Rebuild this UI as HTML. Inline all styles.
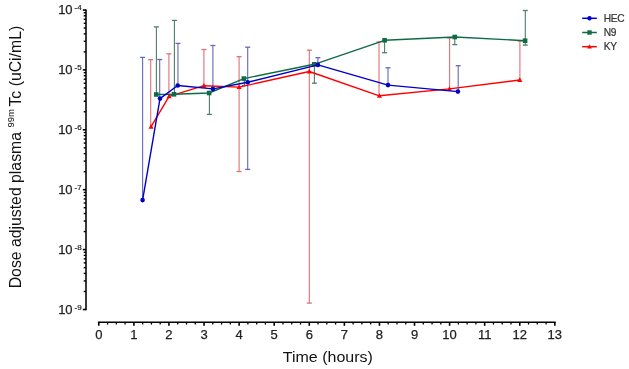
<!DOCTYPE html>
<html><head><meta charset="utf-8"><style>
html,body{margin:0;padding:0;background:#fff;}
body{width:629px;height:369px;position:relative;overflow:hidden;font-family:"Liberation Sans",Arial,sans-serif;}
svg text{font-family:"Liberation Sans",Arial,sans-serif;}
</style></head><body>
<svg width="629" height="369" viewBox="0 0 629 369" style="position:absolute;left:0;top:0">
<line x1="86.0" y1="9.5" x2="86.0" y2="310.3" stroke="#000" stroke-width="1.55"/>
<line x1="82.8" y1="309.50" x2="86.0" y2="309.50" stroke="#000" stroke-width="1.6"/>
<line x1="83.7" y1="291.47" x2="86.0" y2="291.47" stroke="#000" stroke-width="1.4"/>
<line x1="83.7" y1="280.92" x2="86.0" y2="280.92" stroke="#000" stroke-width="1.4"/>
<line x1="83.7" y1="273.44" x2="86.0" y2="273.44" stroke="#000" stroke-width="1.4"/>
<line x1="83.7" y1="267.63" x2="86.0" y2="267.63" stroke="#000" stroke-width="1.4"/>
<line x1="83.7" y1="262.89" x2="86.0" y2="262.89" stroke="#000" stroke-width="1.4"/>
<line x1="83.7" y1="258.88" x2="86.0" y2="258.88" stroke="#000" stroke-width="1.4"/>
<line x1="83.7" y1="255.40" x2="86.0" y2="255.40" stroke="#000" stroke-width="1.4"/>
<line x1="83.7" y1="252.34" x2="86.0" y2="252.34" stroke="#000" stroke-width="1.4"/>
<line x1="82.8" y1="249.60" x2="86.0" y2="249.60" stroke="#000" stroke-width="1.6"/>
<line x1="83.7" y1="231.57" x2="86.0" y2="231.57" stroke="#000" stroke-width="1.4"/>
<line x1="83.7" y1="221.02" x2="86.0" y2="221.02" stroke="#000" stroke-width="1.4"/>
<line x1="83.7" y1="213.54" x2="86.0" y2="213.54" stroke="#000" stroke-width="1.4"/>
<line x1="83.7" y1="207.73" x2="86.0" y2="207.73" stroke="#000" stroke-width="1.4"/>
<line x1="83.7" y1="202.99" x2="86.0" y2="202.99" stroke="#000" stroke-width="1.4"/>
<line x1="83.7" y1="198.98" x2="86.0" y2="198.98" stroke="#000" stroke-width="1.4"/>
<line x1="83.7" y1="195.50" x2="86.0" y2="195.50" stroke="#000" stroke-width="1.4"/>
<line x1="83.7" y1="192.44" x2="86.0" y2="192.44" stroke="#000" stroke-width="1.4"/>
<line x1="82.8" y1="189.70" x2="86.0" y2="189.70" stroke="#000" stroke-width="1.6"/>
<line x1="83.7" y1="171.67" x2="86.0" y2="171.67" stroke="#000" stroke-width="1.4"/>
<line x1="83.7" y1="161.12" x2="86.0" y2="161.12" stroke="#000" stroke-width="1.4"/>
<line x1="83.7" y1="153.64" x2="86.0" y2="153.64" stroke="#000" stroke-width="1.4"/>
<line x1="83.7" y1="147.83" x2="86.0" y2="147.83" stroke="#000" stroke-width="1.4"/>
<line x1="83.7" y1="143.09" x2="86.0" y2="143.09" stroke="#000" stroke-width="1.4"/>
<line x1="83.7" y1="139.08" x2="86.0" y2="139.08" stroke="#000" stroke-width="1.4"/>
<line x1="83.7" y1="135.60" x2="86.0" y2="135.60" stroke="#000" stroke-width="1.4"/>
<line x1="83.7" y1="132.54" x2="86.0" y2="132.54" stroke="#000" stroke-width="1.4"/>
<line x1="82.8" y1="129.80" x2="86.0" y2="129.80" stroke="#000" stroke-width="1.6"/>
<line x1="83.7" y1="111.77" x2="86.0" y2="111.77" stroke="#000" stroke-width="1.4"/>
<line x1="83.7" y1="101.22" x2="86.0" y2="101.22" stroke="#000" stroke-width="1.4"/>
<line x1="83.7" y1="93.74" x2="86.0" y2="93.74" stroke="#000" stroke-width="1.4"/>
<line x1="83.7" y1="87.93" x2="86.0" y2="87.93" stroke="#000" stroke-width="1.4"/>
<line x1="83.7" y1="83.19" x2="86.0" y2="83.19" stroke="#000" stroke-width="1.4"/>
<line x1="83.7" y1="79.18" x2="86.0" y2="79.18" stroke="#000" stroke-width="1.4"/>
<line x1="83.7" y1="75.70" x2="86.0" y2="75.70" stroke="#000" stroke-width="1.4"/>
<line x1="83.7" y1="72.64" x2="86.0" y2="72.64" stroke="#000" stroke-width="1.4"/>
<line x1="82.8" y1="69.90" x2="86.0" y2="69.90" stroke="#000" stroke-width="1.6"/>
<line x1="83.7" y1="51.87" x2="86.0" y2="51.87" stroke="#000" stroke-width="1.4"/>
<line x1="83.7" y1="41.32" x2="86.0" y2="41.32" stroke="#000" stroke-width="1.4"/>
<line x1="83.7" y1="33.84" x2="86.0" y2="33.84" stroke="#000" stroke-width="1.4"/>
<line x1="83.7" y1="28.03" x2="86.0" y2="28.03" stroke="#000" stroke-width="1.4"/>
<line x1="83.7" y1="23.29" x2="86.0" y2="23.29" stroke="#000" stroke-width="1.4"/>
<line x1="83.7" y1="19.28" x2="86.0" y2="19.28" stroke="#000" stroke-width="1.4"/>
<line x1="83.7" y1="15.80" x2="86.0" y2="15.80" stroke="#000" stroke-width="1.4"/>
<line x1="83.7" y1="12.74" x2="86.0" y2="12.74" stroke="#000" stroke-width="1.4"/>
<line x1="82.8" y1="10.00" x2="86.0" y2="10.00" stroke="#000" stroke-width="1.6"/>
<line x1="97.89999999999999" y1="322.2" x2="555.7399999999999" y2="322.2" stroke="#000" stroke-width="1.55"/>
<line x1="98.80" y1="322.2" x2="98.80" y2="325.8" stroke="#000" stroke-width="1.6"/>
<line x1="107.57" y1="322.2" x2="107.57" y2="324.59999999999997" stroke="#000" stroke-width="1.3"/>
<line x1="116.34" y1="322.2" x2="116.34" y2="324.59999999999997" stroke="#000" stroke-width="1.3"/>
<line x1="125.11" y1="322.2" x2="125.11" y2="324.59999999999997" stroke="#000" stroke-width="1.3"/>
<line x1="133.88" y1="322.2" x2="133.88" y2="325.8" stroke="#000" stroke-width="1.6"/>
<line x1="142.65" y1="322.2" x2="142.65" y2="324.59999999999997" stroke="#000" stroke-width="1.3"/>
<line x1="151.42" y1="322.2" x2="151.42" y2="324.59999999999997" stroke="#000" stroke-width="1.3"/>
<line x1="160.19" y1="322.2" x2="160.19" y2="324.59999999999997" stroke="#000" stroke-width="1.3"/>
<line x1="168.96" y1="322.2" x2="168.96" y2="325.8" stroke="#000" stroke-width="1.6"/>
<line x1="177.73" y1="322.2" x2="177.73" y2="324.59999999999997" stroke="#000" stroke-width="1.3"/>
<line x1="186.50" y1="322.2" x2="186.50" y2="324.59999999999997" stroke="#000" stroke-width="1.3"/>
<line x1="195.27" y1="322.2" x2="195.27" y2="324.59999999999997" stroke="#000" stroke-width="1.3"/>
<line x1="204.04" y1="322.2" x2="204.04" y2="325.8" stroke="#000" stroke-width="1.6"/>
<line x1="212.81" y1="322.2" x2="212.81" y2="324.59999999999997" stroke="#000" stroke-width="1.3"/>
<line x1="221.58" y1="322.2" x2="221.58" y2="324.59999999999997" stroke="#000" stroke-width="1.3"/>
<line x1="230.35" y1="322.2" x2="230.35" y2="324.59999999999997" stroke="#000" stroke-width="1.3"/>
<line x1="239.12" y1="322.2" x2="239.12" y2="325.8" stroke="#000" stroke-width="1.6"/>
<line x1="247.89" y1="322.2" x2="247.89" y2="324.59999999999997" stroke="#000" stroke-width="1.3"/>
<line x1="256.66" y1="322.2" x2="256.66" y2="324.59999999999997" stroke="#000" stroke-width="1.3"/>
<line x1="265.43" y1="322.2" x2="265.43" y2="324.59999999999997" stroke="#000" stroke-width="1.3"/>
<line x1="274.20" y1="322.2" x2="274.20" y2="325.8" stroke="#000" stroke-width="1.6"/>
<line x1="282.97" y1="322.2" x2="282.97" y2="324.59999999999997" stroke="#000" stroke-width="1.3"/>
<line x1="291.74" y1="322.2" x2="291.74" y2="324.59999999999997" stroke="#000" stroke-width="1.3"/>
<line x1="300.51" y1="322.2" x2="300.51" y2="324.59999999999997" stroke="#000" stroke-width="1.3"/>
<line x1="309.28" y1="322.2" x2="309.28" y2="325.8" stroke="#000" stroke-width="1.6"/>
<line x1="318.05" y1="322.2" x2="318.05" y2="324.59999999999997" stroke="#000" stroke-width="1.3"/>
<line x1="326.82" y1="322.2" x2="326.82" y2="324.59999999999997" stroke="#000" stroke-width="1.3"/>
<line x1="335.59" y1="322.2" x2="335.59" y2="324.59999999999997" stroke="#000" stroke-width="1.3"/>
<line x1="344.36" y1="322.2" x2="344.36" y2="325.8" stroke="#000" stroke-width="1.6"/>
<line x1="353.13" y1="322.2" x2="353.13" y2="324.59999999999997" stroke="#000" stroke-width="1.3"/>
<line x1="361.90" y1="322.2" x2="361.90" y2="324.59999999999997" stroke="#000" stroke-width="1.3"/>
<line x1="370.67" y1="322.2" x2="370.67" y2="324.59999999999997" stroke="#000" stroke-width="1.3"/>
<line x1="379.44" y1="322.2" x2="379.44" y2="325.8" stroke="#000" stroke-width="1.6"/>
<line x1="388.21" y1="322.2" x2="388.21" y2="324.59999999999997" stroke="#000" stroke-width="1.3"/>
<line x1="396.98" y1="322.2" x2="396.98" y2="324.59999999999997" stroke="#000" stroke-width="1.3"/>
<line x1="405.75" y1="322.2" x2="405.75" y2="324.59999999999997" stroke="#000" stroke-width="1.3"/>
<line x1="414.52" y1="322.2" x2="414.52" y2="325.8" stroke="#000" stroke-width="1.6"/>
<line x1="423.29" y1="322.2" x2="423.29" y2="324.59999999999997" stroke="#000" stroke-width="1.3"/>
<line x1="432.06" y1="322.2" x2="432.06" y2="324.59999999999997" stroke="#000" stroke-width="1.3"/>
<line x1="440.83" y1="322.2" x2="440.83" y2="324.59999999999997" stroke="#000" stroke-width="1.3"/>
<line x1="449.60" y1="322.2" x2="449.60" y2="325.8" stroke="#000" stroke-width="1.6"/>
<line x1="458.37" y1="322.2" x2="458.37" y2="324.59999999999997" stroke="#000" stroke-width="1.3"/>
<line x1="467.14" y1="322.2" x2="467.14" y2="324.59999999999997" stroke="#000" stroke-width="1.3"/>
<line x1="475.91" y1="322.2" x2="475.91" y2="324.59999999999997" stroke="#000" stroke-width="1.3"/>
<line x1="484.68" y1="322.2" x2="484.68" y2="325.8" stroke="#000" stroke-width="1.6"/>
<line x1="493.45" y1="322.2" x2="493.45" y2="324.59999999999997" stroke="#000" stroke-width="1.3"/>
<line x1="502.22" y1="322.2" x2="502.22" y2="324.59999999999997" stroke="#000" stroke-width="1.3"/>
<line x1="510.99" y1="322.2" x2="510.99" y2="324.59999999999997" stroke="#000" stroke-width="1.3"/>
<line x1="519.76" y1="322.2" x2="519.76" y2="325.8" stroke="#000" stroke-width="1.6"/>
<line x1="528.53" y1="322.2" x2="528.53" y2="324.59999999999997" stroke="#000" stroke-width="1.3"/>
<line x1="537.30" y1="322.2" x2="537.30" y2="324.59999999999997" stroke="#000" stroke-width="1.3"/>
<line x1="546.07" y1="322.2" x2="546.07" y2="324.59999999999997" stroke="#000" stroke-width="1.3"/>
<line x1="554.84" y1="322.2" x2="554.84" y2="325.8" stroke="#000" stroke-width="1.6"/>
<text x="98.80" y="338.9" text-anchor="middle" font-size="13" fill="#222" stroke="#222" stroke-width="0.25">0</text>
<text x="133.88" y="338.9" text-anchor="middle" font-size="13" fill="#222" stroke="#222" stroke-width="0.25">1</text>
<text x="168.96" y="338.9" text-anchor="middle" font-size="13" fill="#222" stroke="#222" stroke-width="0.25">2</text>
<text x="204.04" y="338.9" text-anchor="middle" font-size="13" fill="#222" stroke="#222" stroke-width="0.25">3</text>
<text x="239.12" y="338.9" text-anchor="middle" font-size="13" fill="#222" stroke="#222" stroke-width="0.25">4</text>
<text x="274.20" y="338.9" text-anchor="middle" font-size="13" fill="#222" stroke="#222" stroke-width="0.25">5</text>
<text x="309.28" y="338.9" text-anchor="middle" font-size="13" fill="#222" stroke="#222" stroke-width="0.25">6</text>
<text x="344.36" y="338.9" text-anchor="middle" font-size="13" fill="#222" stroke="#222" stroke-width="0.25">7</text>
<text x="379.44" y="338.9" text-anchor="middle" font-size="13" fill="#222" stroke="#222" stroke-width="0.25">8</text>
<text x="414.52" y="338.9" text-anchor="middle" font-size="13" fill="#222" stroke="#222" stroke-width="0.25">9</text>
<text x="449.60" y="338.9" text-anchor="middle" font-size="13" fill="#222" stroke="#222" stroke-width="0.25">10</text>
<text x="484.68" y="338.9" text-anchor="middle" font-size="13" fill="#222" stroke="#222" stroke-width="0.25">11</text>
<text x="519.76" y="338.9" text-anchor="middle" font-size="13" fill="#222" stroke="#222" stroke-width="0.25">12</text>
<text x="554.84" y="338.9" text-anchor="middle" font-size="13" fill="#222" stroke="#222" stroke-width="0.25">13</text>
<text x="72.6" y="313.70" text-anchor="end" font-size="13" fill="#222" stroke="#222" stroke-width="0.25">10</text>
<text x="74.6" y="309.90" font-size="8" fill="#222" stroke="#222" stroke-width="0.2">-9</text>
<text x="72.6" y="253.80" text-anchor="end" font-size="13" fill="#222" stroke="#222" stroke-width="0.25">10</text>
<text x="74.6" y="250.00" font-size="8" fill="#222" stroke="#222" stroke-width="0.2">-8</text>
<text x="72.6" y="193.90" text-anchor="end" font-size="13" fill="#222" stroke="#222" stroke-width="0.25">10</text>
<text x="74.6" y="190.10" font-size="8" fill="#222" stroke="#222" stroke-width="0.2">-7</text>
<text x="72.6" y="134.00" text-anchor="end" font-size="13" fill="#222" stroke="#222" stroke-width="0.25">10</text>
<text x="74.6" y="130.20" font-size="8" fill="#222" stroke="#222" stroke-width="0.2">-6</text>
<text x="72.6" y="74.10" text-anchor="end" font-size="13" fill="#222" stroke="#222" stroke-width="0.25">10</text>
<text x="74.6" y="70.30" font-size="8" fill="#222" stroke="#222" stroke-width="0.2">-5</text>
<text x="72.6" y="14.20" text-anchor="end" font-size="13" fill="#222" stroke="#222" stroke-width="0.25">10</text>
<text x="74.6" y="10.40" font-size="8" fill="#222" stroke="#222" stroke-width="0.2">-4</text>
<text x="327.8" y="361.9" text-anchor="middle" font-size="15.2" textLength="90" lengthAdjust="spacingAndGlyphs" fill="#111">Time (hours)</text>
<text transform="translate(20.5,288.3) rotate(-90)" font-size="15.8" fill="#111">Dose adjusted plasma <tspan font-size="9.6" dy="-7">99m</tspan><tspan dy="7" dx="2.4">Tc (uCi/mL)</tspan></text>
<line x1="150.7" y1="59.7" x2="150.7" y2="126.7" stroke="#de7078" stroke-width="1.1"/>
<line x1="148.2" y1="59.7" x2="153.2" y2="59.7" stroke="#de7078" stroke-width="1.3"/>
<line x1="168.9" y1="53.8" x2="168.9" y2="96.4" stroke="#de7078" stroke-width="1.1"/>
<line x1="166.4" y1="53.8" x2="171.4" y2="53.8" stroke="#de7078" stroke-width="1.3"/>
<line x1="203.9" y1="49.5" x2="203.9" y2="85.7" stroke="#de7078" stroke-width="1.1"/>
<line x1="201.4" y1="49.5" x2="206.4" y2="49.5" stroke="#de7078" stroke-width="1.3"/>
<line x1="239.1" y1="56.7" x2="239.1" y2="87.1" stroke="#de7078" stroke-width="1.1"/>
<line x1="236.6" y1="56.7" x2="241.6" y2="56.7" stroke="#de7078" stroke-width="1.3"/>
<line x1="239.1" y1="87.1" x2="239.1" y2="171.5" stroke="#de7078" stroke-width="1.1"/>
<line x1="236.6" y1="171.5" x2="241.6" y2="171.5" stroke="#de7078" stroke-width="1.3"/>
<line x1="309.3" y1="50.2" x2="309.3" y2="71.5" stroke="#de7078" stroke-width="1.1"/>
<line x1="306.8" y1="50.2" x2="311.8" y2="50.2" stroke="#de7078" stroke-width="1.3"/>
<line x1="309.3" y1="71.5" x2="309.3" y2="303.1" stroke="#de7078" stroke-width="1.1"/>
<line x1="306.8" y1="303.1" x2="311.8" y2="303.1" stroke="#de7078" stroke-width="1.3"/>
<line x1="379.0" y1="42.0" x2="379.0" y2="95.8" stroke="#de7078" stroke-width="1.1"/>
<line x1="376.5" y1="42.0" x2="381.5" y2="42.0" stroke="#de7078" stroke-width="1.3"/>
<line x1="449.6" y1="38.1" x2="449.6" y2="88.9" stroke="#de7078" stroke-width="1.1"/>
<line x1="447.1" y1="38.1" x2="452.1" y2="38.1" stroke="#de7078" stroke-width="1.3"/>
<line x1="519.9" y1="41.0" x2="519.9" y2="80.0" stroke="#de7078" stroke-width="1.1"/>
<line x1="517.4" y1="41.0" x2="522.4" y2="41.0" stroke="#de7078" stroke-width="1.3"/>
<line x1="142.6" y1="57.4" x2="142.6" y2="200.1" stroke="#6666bc" stroke-width="1.1"/>
<line x1="140.1" y1="57.4" x2="145.1" y2="57.4" stroke="#6666bc" stroke-width="1.3"/>
<line x1="159.7" y1="59.5" x2="159.7" y2="98.6" stroke="#6666bc" stroke-width="1.1"/>
<line x1="157.2" y1="59.5" x2="162.2" y2="59.5" stroke="#6666bc" stroke-width="1.3"/>
<line x1="177.95" y1="43.4" x2="177.95" y2="85.5" stroke="#6666bc" stroke-width="1.1"/>
<line x1="175.45" y1="43.4" x2="180.45" y2="43.4" stroke="#6666bc" stroke-width="1.3"/>
<line x1="212.9" y1="45.5" x2="212.9" y2="88.9" stroke="#6666bc" stroke-width="1.1"/>
<line x1="210.4" y1="45.5" x2="215.4" y2="45.5" stroke="#6666bc" stroke-width="1.3"/>
<line x1="247.7" y1="47.2" x2="247.7" y2="82.3" stroke="#6666bc" stroke-width="1.1"/>
<line x1="245.2" y1="47.2" x2="250.2" y2="47.2" stroke="#6666bc" stroke-width="1.3"/>
<line x1="247.7" y1="82.3" x2="247.7" y2="169.4" stroke="#6666bc" stroke-width="1.1"/>
<line x1="245.2" y1="169.4" x2="250.2" y2="169.4" stroke="#6666bc" stroke-width="1.3"/>
<line x1="317.9" y1="57.7" x2="317.9" y2="64.9" stroke="#6666bc" stroke-width="1.1"/>
<line x1="315.4" y1="57.7" x2="320.4" y2="57.7" stroke="#6666bc" stroke-width="1.3"/>
<line x1="388.0" y1="67.8" x2="388.0" y2="85.1" stroke="#6666bc" stroke-width="1.1"/>
<line x1="385.5" y1="67.8" x2="390.5" y2="67.8" stroke="#6666bc" stroke-width="1.3"/>
<line x1="458.2" y1="65.7" x2="458.2" y2="91.6" stroke="#6666bc" stroke-width="1.1"/>
<line x1="455.7" y1="65.7" x2="460.7" y2="65.7" stroke="#6666bc" stroke-width="1.3"/>
<line x1="156.4" y1="26.9" x2="156.4" y2="94.5" stroke="#4d7e68" stroke-width="1.1"/>
<line x1="153.9" y1="26.9" x2="158.9" y2="26.9" stroke="#4d7e68" stroke-width="1.3"/>
<line x1="174.4" y1="20.4" x2="174.4" y2="94.3" stroke="#4d7e68" stroke-width="1.1"/>
<line x1="171.9" y1="20.4" x2="176.9" y2="20.4" stroke="#4d7e68" stroke-width="1.3"/>
<line x1="209.4" y1="93.0" x2="209.4" y2="114.4" stroke="#4d7e68" stroke-width="1.1"/>
<line x1="206.9" y1="114.4" x2="211.9" y2="114.4" stroke="#4d7e68" stroke-width="1.3"/>
<line x1="244.4" y1="78.6" x2="244.4" y2="85.5" stroke="#4d7e68" stroke-width="1.1"/>
<line x1="241.9" y1="85.5" x2="246.9" y2="85.5" stroke="#4d7e68" stroke-width="1.3"/>
<line x1="314.4" y1="64.3" x2="314.4" y2="83.2" stroke="#4d7e68" stroke-width="1.1"/>
<line x1="311.9" y1="83.2" x2="316.9" y2="83.2" stroke="#4d7e68" stroke-width="1.3"/>
<line x1="384.6" y1="40.3" x2="384.6" y2="52.7" stroke="#4d7e68" stroke-width="1.1"/>
<line x1="382.1" y1="52.7" x2="387.1" y2="52.7" stroke="#4d7e68" stroke-width="1.3"/>
<line x1="454.8" y1="37.0" x2="454.8" y2="44.6" stroke="#4d7e68" stroke-width="1.1"/>
<line x1="452.3" y1="44.6" x2="457.3" y2="44.6" stroke="#4d7e68" stroke-width="1.3"/>
<line x1="525.3" y1="10.5" x2="525.3" y2="40.7" stroke="#4d7e68" stroke-width="1.1"/>
<line x1="522.8" y1="10.5" x2="527.8" y2="10.5" stroke="#4d7e68" stroke-width="1.3"/>
<line x1="525.3" y1="40.7" x2="525.3" y2="45.1" stroke="#4d7e68" stroke-width="1.1"/>
<line x1="522.8" y1="45.1" x2="527.8" y2="45.1" stroke="#4d7e68" stroke-width="1.3"/>
<polyline points="151.1,126.7 169.1,96.4 203.9,85.7 239.1,87.1 309.3,71.5 379.4,95.8 449.4,88.9 519.8,80.0" fill="none" stroke="#ff0000" stroke-width="1.4" stroke-linejoin="round"/>
<polygon points="151.1,124.055 148.57,128.655 153.63,128.655" fill="#ff0000"/>
<polygon points="169.1,93.75500000000001 166.57,98.355 171.63,98.355" fill="#ff0000"/>
<polygon points="203.9,83.055 201.37,87.655 206.43,87.655" fill="#ff0000"/>
<polygon points="239.1,84.455 236.57,89.05499999999999 241.63,89.05499999999999" fill="#ff0000"/>
<polygon points="309.3,68.855 306.77000000000004,73.455 311.83,73.455" fill="#ff0000"/>
<polygon points="379.4,93.155 376.87,97.755 381.92999999999995,97.755" fill="#ff0000"/>
<polygon points="449.4,86.25500000000001 446.87,90.855 451.92999999999995,90.855" fill="#ff0000"/>
<polygon points="519.8,77.355 517.27,81.955 522.3299999999999,81.955" fill="#ff0000"/>
<polyline points="156.3,94.5 174.0,94.3 209.1,93.0 243.9,78.6 314.2,64.3 384.6,40.3 454.8,37.0 525.1,40.7" fill="none" stroke="#0e6b45" stroke-width="1.4" stroke-linejoin="round"/>
<rect x="154.0" y="92.2" width="4.6" height="4.6" fill="#0e6b45"/>
<rect x="171.7" y="92.0" width="4.6" height="4.6" fill="#0e6b45"/>
<rect x="206.79999999999998" y="90.7" width="4.6" height="4.6" fill="#0e6b45"/>
<rect x="241.6" y="76.3" width="4.6" height="4.6" fill="#0e6b45"/>
<rect x="311.9" y="62.0" width="4.6" height="4.6" fill="#0e6b45"/>
<rect x="382.3" y="38.0" width="4.6" height="4.6" fill="#0e6b45"/>
<rect x="452.5" y="34.7" width="4.6" height="4.6" fill="#0e6b45"/>
<rect x="522.8000000000001" y="38.400000000000006" width="4.6" height="4.6" fill="#0e6b45"/>
<polyline points="142.6,200.1 160.0,98.6 177.7,85.5 212.9,88.9 247.7,82.3 317.9,64.9 388.0,85.1 457.9,91.6" fill="none" stroke="#0000c8" stroke-width="1.4" stroke-linejoin="round"/>
<circle cx="142.6" cy="200.1" r="2.3" fill="#0000c8"/>
<circle cx="160.0" cy="98.6" r="2.3" fill="#0000c8"/>
<circle cx="177.7" cy="85.5" r="2.3" fill="#0000c8"/>
<circle cx="212.9" cy="88.9" r="2.3" fill="#0000c8"/>
<circle cx="247.7" cy="82.3" r="2.3" fill="#0000c8"/>
<circle cx="317.9" cy="64.9" r="2.3" fill="#0000c8"/>
<circle cx="388.0" cy="85.1" r="2.3" fill="#0000c8"/>
<circle cx="457.9" cy="91.6" r="2.3" fill="#0000c8"/>
<line x1="582.2" y1="18.3" x2="596.8" y2="18.3" stroke="#0000c8" stroke-width="1.5"/>
<circle cx="589.5" cy="18.3" r="2.2" fill="#0000c8"/>
<text x="603.8" y="21.80" font-size="10.2" fill="#333" stroke="#333" stroke-width="0.2" letter-spacing="-0.35">HEC</text>
<line x1="582.2" y1="32.5" x2="596.8" y2="32.5" stroke="#0e6b45" stroke-width="1.5"/>
<rect x="587.3" y="30.3" width="4.4" height="4.4" fill="#0e6b45"/>
<text x="603.8" y="36.00" font-size="10.2" fill="#333" stroke="#333" stroke-width="0.2" letter-spacing="-0.35">N9</text>
<line x1="582.2" y1="46.7" x2="596.8" y2="46.7" stroke="#ff0000" stroke-width="1.5"/>
<polygon points="589.5,44.17 587.08,48.57 591.92,48.57" fill="#ff0000"/>
<text x="603.8" y="50.20" font-size="10.2" fill="#333" stroke="#333" stroke-width="0.2" letter-spacing="-0.35">KY</text>
</svg>
</body></html>
